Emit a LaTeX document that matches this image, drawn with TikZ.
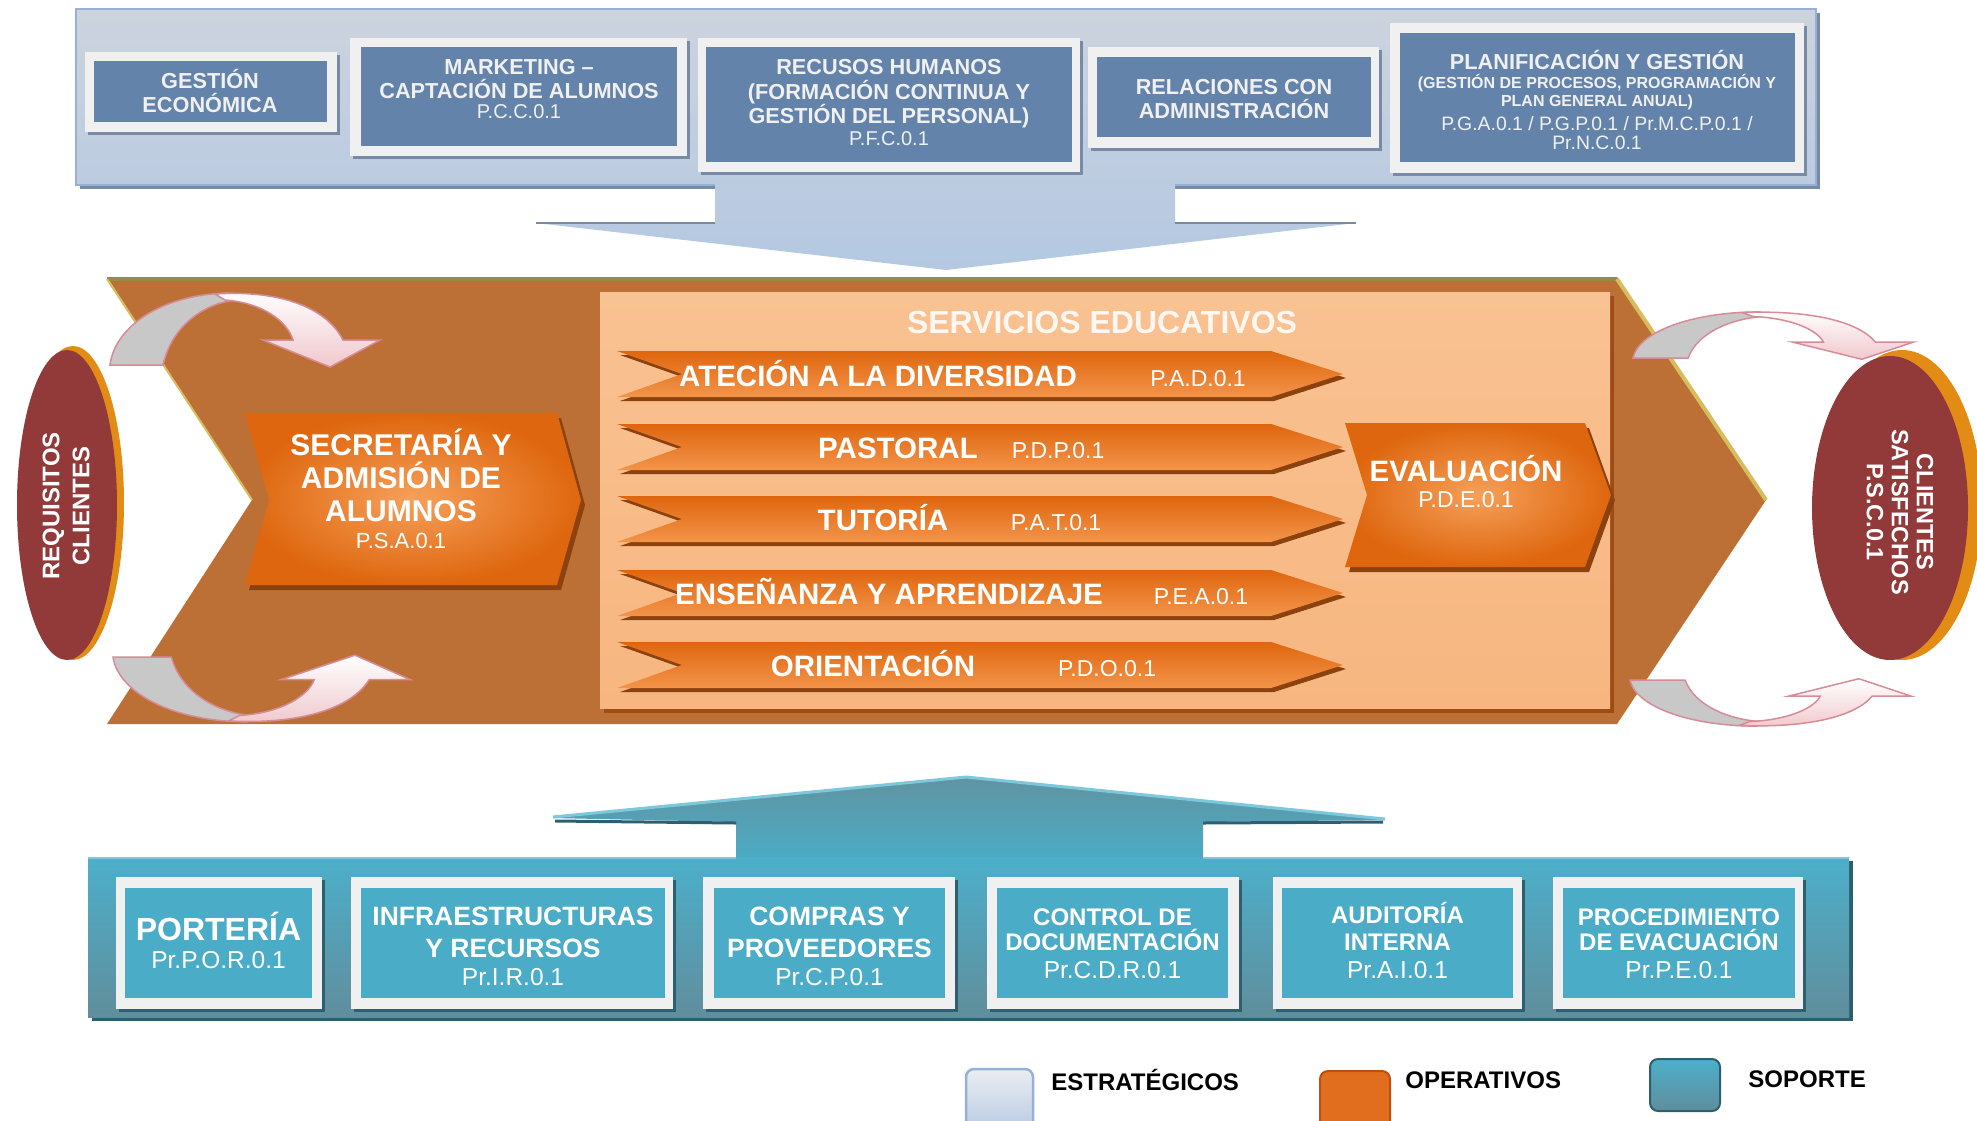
\documentclass[tikz,border=0pt]{standalone}
\usepackage{fontspec}
\setmainfont{Liberation Sans}
\usetikzlibrary{shadows}

\definecolor{stratTop}{RGB}{204,211,221}
\definecolor{stratBot}{RGB}{180,200,226}
\definecolor{stratLine}{RGB}{150,176,214}
\definecolor{stratShade}{RGB}{120,138,165}
\definecolor{stratBlue}{RGB}{99,131,171}
\definecolor{frameGray}{RGB}{240,240,240}
\definecolor{bandBrown}{RGB}{189,112,54}
\definecolor{bandOlive}{RGB}{152,138,72}
\definecolor{bandYellow}{RGB}{214,190,96}
\definecolor{panTop}{RGB}{249,194,146}
\definecolor{panMid}{RGB}{245,163,100}
\definecolor{panBot}{RGB}{247,182,128}
\definecolor{panShadow}{RGB}{158,76,20}
\definecolor{chevTop}{RGB}{223,102,14}
\definecolor{chevBot}{RGB}{243,148,74}
\definecolor{chevShadow}{RGB}{140,66,14}
\definecolor{clientRed}{RGB}{146,58,58}
\definecolor{clientRim}{RGB}{226,140,22}
\definecolor{arrowGray}{RGB}{200,200,200}
\definecolor{arrowPink}{RGB}{214,140,150}
\definecolor{arrowBlush}{RGB}{240,200,205}
\definecolor{supTop}{RGB}{76,175,202}
\definecolor{supBot}{RGB}{96,142,156}
\definecolor{supTeal}{RGB}{74,172,198}
\definecolor{supDark}{RGB}{45,95,110}
\definecolor{supLight}{RGB}{125,200,220}
\definecolor{headTeal}{RGB}{96,148,162}
\definecolor{legOrange}{RGB}{224,110,30}

% one orange process band, #1 = centre line
\newcommand{\procband}[1]{%
	\fill[chevShadow] (620,#1-19) -- (1274,#1-19) -- (1346,#1+4) -- (1274,#1+27) -- (620,#1+27) -- (685,#1+4) -- cycle;
	\shade[top color=chevTop, bottom color=chevBot] (617,#1-23) -- (1271,#1-23) -- (1343,#1) -- (1271,#1+23) -- (617,#1+23) -- (682,#1) -- cycle;}

% curved grey/pink arrow, #1 = placement
\newcommand{\loopArrow}[1]{%
	\begin{scope}[#1]
		\filldraw[fill=arrowGray, draw=arrowPink, line width=1.5pt] (0,0) .. controls (5,-40) and (55,-72) .. (122,-72) -- (126,-65) .. controls (95,-62) and (62,-40) .. (53,0) -- cycle;
		\shadedraw[top color=white, bottom color=arrowBlush, draw=arrowPink, line width=1.5pt] (105,-71) .. controls (165,-75) and (215,-60) .. (233,-25) -- (270,-25) -- (220,2) -- (153,-25) -- (183,-25) .. controls (178,-42) and (155,-62) .. (115,-65) -- cycle;
	\end{scope}}

\begin{document}
\begin{tikzpicture}
		[x=1pt, y=-1pt, thick,
		stratframe/.style={rectangle, fill=frameGray, inner sep=0pt, drop shadow={shadow xshift=3pt, shadow yshift=-3pt, fill=stratShade, opacity=1}},
		stratinner/.style={rectangle, fill=stratBlue, inner sep=0pt},
		strattxt/.style={align=center, text=frameGray, inner sep=0pt, font=\fontsize{21.7}{24.5}\selectfont\bfseries},
		suppframe/.style={rectangle, fill=frameGray, inner sep=0pt, drop shadow={shadow xshift=3pt, shadow yshift=-3pt, fill=supDark, opacity=1}},
		suppinner/.style={rectangle, fill=supTeal, inner sep=0pt},
		supptxt/.style={align=center, text=white, inner sep=0pt, font=\fontsize{24}{25}\selectfont\bfseries},
		rowtxt/.style={anchor=base, text=white, inner sep=0pt, font=\fontsize{29.5}{32}\selectfont\bfseries},
		rowcode/.style={anchor=base, text=white, inner sep=0pt, font=\fontsize{23}{26}\selectfont},
		legtxt/.style={anchor=base west, text=black, inner sep=0pt, font=\fontsize{24}{28}\selectfont\bfseries}]
		\useasboundingbox (0,0) rectangle (1977,1120);
		\clip (0,0) rectangle (1977,1120);

		% estrategicos
		\fill[stratShade] (80,13) rectangle (1820,189);
		\shade[top color=stratTop, bottom color=stratBot] (76,9) -- (1816,9) -- (1816,185) -- (1175,185) -- (1175,223) -- (1356,223) -- (946,270) -- (536,223) -- (715,223) -- (715,185) -- (76,185) -- cycle;
		\draw[stratLine, line width=2pt] (715,185) -- (76,185) -- (76,9) -- (1816,9) -- (1816,185) -- (1175,185);
		\draw[stratShade, line width=2pt] (536,223) -- (715,223) (1175,223) -- (1356,223);
		\draw (211,92) node[stratframe, minimum width=252pt, minimum height=80pt] (gestionF) {};
		\draw (210,91.5) node[stratinner, minimum width=233pt, minimum height=61pt] (gestion) {};
		\draw (210,91) node[strattxt] (gestionT) {GESTIÓN\\ECONÓMICA};
		\draw (518.5,97) node[stratframe, minimum width=337pt, minimum height=118pt] (marketingF) {};
		\draw (519,96.5) node[stratinner, minimum width=316pt, minimum height=99pt] (marketing) {};
		\draw (519,89) node[strattxt] (marketingT) {MARKETING –\\CAPTACIÓN DE ALUMNOS\\[-5pt]{\mdseries\fontsize{20}{21}\selectfont P.C.C.0.1}};
		\draw (889,105) node[stratframe, minimum width=382pt, minimum height=134pt] (rrhhF) {};
		\draw (889,104.5) node[stratinner, minimum width=366pt, minimum height=115pt] (rrhh) {};
		\draw (889,103) node[strattxt] (rrhhT) {RECUSOS HUMANOS\\(FORMACIÓN CONTINUA Y\\GESTIÓN DEL PERSONAL)\\[-2.5pt]{\mdseries\fontsize{20}{21}\selectfont P.F.C.0.1}};
		\draw (1233.5,97.5) node[stratframe, minimum width=291pt, minimum height=101pt] (relacionesF) {};
		\draw (1234,97) node[stratinner, minimum width=274pt, minimum height=80pt] (relaciones) {};
		\draw (1234,99) node[strattxt] (relacionesT) {RELACIONES CON\\ADMINISTRACIÓN};
		\draw (1597,98) node[stratframe, minimum width=414pt, minimum height=150pt] (planF) {};
		\draw (1597.5,97.5) node[stratinner, minimum width=395pt, minimum height=129pt] (plan) {};
		\draw (1597,100) node[strattxt] (planT) {PLANIFICACIÓN Y GESTIÓN\\[-5.5pt]{\fontsize{16}{18}\selectfont (GESTIÓN DE PROCESOS, PROGRAMACIÓN Y}\\[-6.5pt]{\fontsize{16}{18}\selectfont PLAN GENERAL ANUAL)}\\{\mdseries\fontsize{19.4}{21}\selectfont P.G.A.0.1 / P.G.P.0.1 / Pr.M.C.P.0.1 /}\\[-5.5pt]{\mdseries\fontsize{19.4}{21}\selectfont Pr.N.C.0.1}};

		% operativos
		\fill[bandBrown] (107,277) -- (1617,277) -- (1766,500) -- (1617,724) -- (107,724) -- (252,500) -- cycle;
		\draw[bandOlive, line width=4pt] (107,279) -- (1617,279);
		\draw[bandYellow, line width=4pt] (1617,279) -- (1766,500);
		\draw[bandYellow, line width=2pt] (107,279) -- (252,500);
		\fill[panShadow] (604,296) rectangle (1614,713);
		\shade[top color=panTop, middle color=panMid, bottom color=panBot] (600,292) rectangle (1610,708);
		\draw (1102,322) node[text={rgb,255:red,255;green,247;blue,240}, inner sep=0pt, font=\fontsize{32}{36}\selectfont\bfseries] (servicios) {SERVICIOS EDUCATIVOS};
		\procband{374}
		\procband{447}
		\procband{519}
		\procband{593}
		\procband{665}
		\draw (878,386) node[rowtxt] (diversidad) {ATECIÓN A LA DIVERSIDAD};
		\draw (1198,386) node[rowcode] (diversidadC) {P.A.D.0.1};
		\draw (898,458) node[rowtxt] (pastoral) {PASTORAL};
		\draw (1058,458) node[rowcode] (pastoralC) {P.D.P.0.1};
		\draw (883,530) node[rowtxt] (tutoria) {TUTORÍA};
		\draw (1056,530) node[rowcode] (tutoriaC) {P.A.T.0.1};
		\draw (889,604) node[rowtxt] (ensenanza) {ENSEÑANZA Y APRENDIZAJE};
		\draw (1201,604) node[rowcode] (ensenanzaC) {P.E.A.0.1};
		\draw (873,676) node[rowtxt] (orientacion) {ORIENTACIÓN};
		\draw (1107,676) node[rowcode] (orientacionC) {P.D.O.0.1};

		\fill[chevShadow] (249,418) -- (561,418) -- (585,505) -- (561,590) -- (249,590) -- (273,505) -- cycle;
		\shade[inner color={rgb,255:red,246;green,160;blue,90}, outer color={rgb,255:red,222;green,102;blue,14}] (245,413) -- (557,413) -- (581,500) -- (557,585) -- (245,585) -- (269,500) -- cycle;
		\draw (401,489) node[align=center, text=white, inner sep=0pt, font=\fontsize{30}{33}\selectfont\bfseries] (secretaria) {SECRETARÍA Y\\ADMISIÓN DE\\ALUMNOS\\[-6pt]{\mdseries\fontsize{22}{23}\selectfont P.S.A.0.1}};
		\fill[chevShadow] (1349,428) -- (1589,428) -- (1615,500) -- (1589,572) -- (1349,572) -- (1371,500) -- cycle;
		\shade[inner color={rgb,255:red,246;green,160;blue,90}, outer color={rgb,255:red,222;green,102;blue,14}] (1345,423) -- (1585,423) -- (1611,495) -- (1585,567) -- (1345,567) -- (1367,495) -- cycle;
		\draw (1466,482) node[align=center, text=white, inner sep=0pt, font=\fontsize{29.5}{32}\selectfont\bfseries] (evaluacion) {EVALUACIÓN\\[-6pt]{\mdseries\fontsize{23}{24}\selectfont P.D.E.0.1}};

		% clientes
		\fill[clientRim] (73,503) ellipse (51 and 157);
		\fill[clientRed] (67,505) ellipse (50 and 155);
		\draw (66,506) node[rotate=90, align=center, text=white, inner sep=0pt, font=\fontsize{24}{30}\selectfont\bfseries] (requisitos) {REQUISITOS\\CLIENTES};
		\fill[clientRim] (1902,505) ellipse (80 and 155);
		\fill[clientRed] (1890,508) ellipse (78 and 152);
		\draw (1900,512) node[rotate=-90, align=center, text=white, inner sep=0pt, font=\fontsize{23.5}{25}\selectfont\bfseries] (satisfechos) {CLIENTES\\SATISFECHOS\\P.S.C.0.1};
		\loopArrow{shift={(110,365)}}
		\loopArrow{shift={(113,657)}, xscale=1.1, yscale=-0.9}
		\loopArrow{shift={(1633,358)}, xscale=1.04, yscale=0.64}
		\loopArrow{shift={(1630,680)}, xscale=1.04, yscale=-0.64}

		% soporte
		\shade[top color=headTeal, bottom color=supTeal] (736,860) -- (736,822) -- (553,818) -- (966,778) -- (1385,820) -- (1203,822) -- (1203,860) -- cycle;
		\draw[supLight, line width=3pt] (553,817) -- (966,777) -- (1385,819);
		\draw[supDark, line width=3pt] (555,821) -- (736,823) (1203,823) -- (1383,822);
		\fill[supDark] (92,861) rectangle (1853,1021);
		\shade[top color=supTop, bottom color=supBot] (88,857) rectangle (1849,1017);
		\draw[supLight, line width=2pt] (88,858) -- (736,858) (1203,858) -- (1849,858);
		\draw (219,943) node[suppframe, minimum width=206pt, minimum height=132pt] (porteriaF) {};
		\draw (218.5,943) node[suppinner, minimum width=187pt, minimum height=110pt] (porteria) {};
		\draw (218.5,940) node[supptxt] (porteriaT) {{\fontsize{32}{36}\selectfont PORTERÍA}\\[3pt]{\mdseries\fontsize{24.5}{25}\selectfont Pr.P.O.R.0.1}};
		\draw (512,943) node[suppframe, minimum width=322pt, minimum height=132pt] (infraF) {};
		\draw (513,943) node[suppinner, minimum width=304pt, minimum height=110pt] (infra) {};
		\draw (513,946) node[supptxt, font=\fontsize{26.5}{32}\selectfont\bfseries] (infraT) {INFRAESTRUCTURAS\\Y RECURSOS\\[-4pt]{\mdseries\fontsize{24.5}{25}\selectfont Pr.I.R.0.1}};
		\draw (829,943) node[suppframe, minimum width=252pt, minimum height=132pt] (comprasF) {};
		\draw (829.5,943) node[suppinner, minimum width=231pt, minimum height=110pt] (compras) {};
		\draw (829.5,946) node[supptxt, font=\fontsize{26.5}{32}\selectfont\bfseries] (comprasT) {COMPRAS Y\\PROVEEDORES\\[-4pt]{\mdseries\fontsize{24.5}{25}\selectfont Pr.C.P.0.1}};
		\draw (1113,943) node[suppframe, minimum width=252pt, minimum height=132pt] (controlF) {};
		\draw (1112.5,943) node[suppinner, minimum width=231pt, minimum height=110pt] (control) {};
		\draw (1112.5,944) node[supptxt] (controlT) {CONTROL DE\\DOCUMENTACIÓN\\[3pt]{\mdseries\fontsize{24.5}{25}\selectfont Pr.C.D.R.0.1}};
		\draw (1397.5,943) node[suppframe, minimum width=249pt, minimum height=132pt] (auditoriaF) {};
		\draw (1397.5,943) node[suppinner, minimum width=231pt, minimum height=110pt] (auditoria) {};
		\draw (1397.5,940.5) node[supptxt, font=\fontsize{24}{27}\selectfont\bfseries] (auditoriaT) {AUDITORÍA\\INTERNA\\[1pt]{\mdseries\fontsize{24.5}{25}\selectfont Pr.A.I.0.1}};
		\draw (1678,943) node[suppframe, minimum width=250pt, minimum height=132pt] (evacuacionF) {};
		\draw (1679,943) node[suppinner, minimum width=232pt, minimum height=110pt] (evacuacion) {};
		\draw (1679,944) node[supptxt] (evacuacionT) {PROCEDIMIENTO\\DE EVACUACIÓN\\[3pt]{\mdseries\fontsize{24.5}{25}\selectfont Pr.P.E.0.1}};

		% leyenda
		\shadedraw[top color=white!60!stratTop, bottom color=stratBot, draw=stratLine, line width=2.5pt, rounded corners=8pt] (966,1069) rectangle (1033,1135);
		\draw (1051,1090) node[legtxt] (estrategicos) {ESTRATÉGICOS};
		\filldraw[fill=legOrange, draw={rgb,255:red,190;green,80;blue,15}, line width=2pt, rounded corners=8pt] (1320,1071) rectangle (1390,1135);
		\draw (1405,1088) node[legtxt] (operativos) {OPERATIVOS};
		\shadedraw[top color=supTop, bottom color=supBot, draw=supDark, line width=2pt, rounded corners=8pt] (1650,1059) rectangle (1720,1111);
		\draw (1748,1087) node[legtxt] (soporte) {SOPORTE};
	\end{tikzpicture}
\end{document}
